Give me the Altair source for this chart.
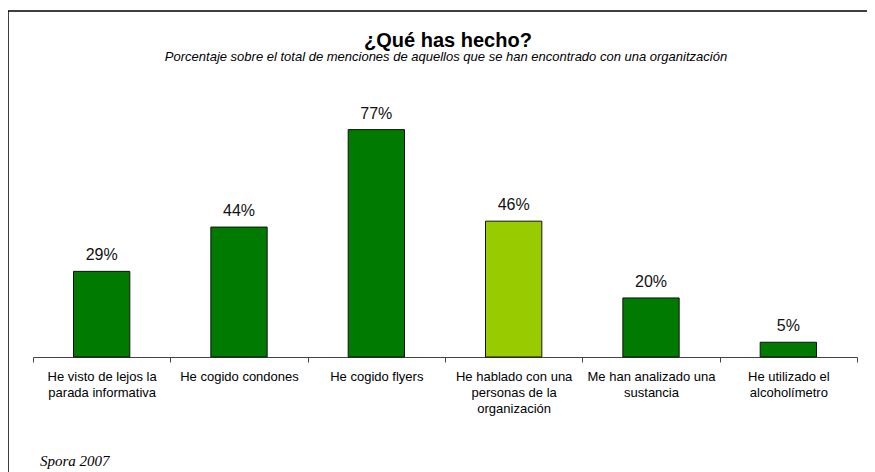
import altair as alt
import pandas as pd

categories = [
    "He visto de lejos la|parada informativa",
    "He cogido condones",
    "He cogido flyers",
    "He hablado con una|personas de la|organización",
    "Me han analizado una|sustancia",
    "He utilizado el|alcoholímetro",
]
values = [29, 44, 77, 46, 20, 5]
bar_colors = ["#007A00", "#007A00", "#007A00", "#99CC00", "#007A00", "#007A00"]
labels = ["29%", "44%", "77%", "46%", "20%", "5%"]

title_text = ["¿Qué has hecho?"]
subtitle_text = ["Porcentaje sobre el total de menciones de aquellos que se han encontrado con una organitzación"]
source_text = ["Spora 2007"]

df = pd.DataFrame({"cat": categories, "val": values, "color": bar_colors, "label": labels})

W, H = 824, 251

x_scale = alt.Scale(paddingInner=0, paddingOuter=0)

x_enc = alt.X(
    "cat:N",
    sort=categories,
    title=None,
    scale=x_scale,
    axis=alt.Axis(
        labelAngle=0,
        labelExpr="split(datum.label, '|')",
        labelFont="Liberation Sans",
        labelFontSize=13,
        labelColor="#000000",
        labelLineHeight=16,
        labelPadding=8,
        labelLimit=200,
        ticks=True,
        tickBand="extent",
        tickSize=5,
        tickWidth=1,
        tickColor="#444444",
        domainColor="#444444",
        domainWidth=1,
    ),
)
y_enc = alt.Y("val:Q", scale=alt.Scale(domain=[0, 85], nice=False), axis=None)

bars = alt.Chart(df).mark_bar(
    stroke="#111111", strokeWidth=1, width=alt.RelativeBandSize(0.41)
).encode(x=x_enc, y=y_enc, color=alt.Color("color:N", scale=None))

text = alt.Chart(df).mark_text(
    dy=-8, baseline="bottom", font="Liberation Sans", fontSize=16, color="#111111"
).encode(x=alt.X("cat:N", sort=categories), y=y_enc, text="label:N")

frame = alt.Chart(pd.DataFrame({"a": [0]})).mark_rect(
    fill=None, stroke="#000000", strokeWidth=1.5, clip=False
).encode(x=alt.value(-25), x2=alt.value(900), y=alt.value(-95), y2=alt.value(500))

title = alt.Chart(pd.DataFrame({"t": title_text})).mark_text(
    font="Liberation Sans", fontSize=20, fontWeight="bold", color="#000000", align="center", baseline="alphabetic"
).encode(x=alt.value(415), y=alt.value(47 - 106), text="t:N")

subtitle = alt.Chart(pd.DataFrame({"t": subtitle_text})).mark_text(
    font="Liberation Sans", fontSize=13, fontStyle="italic", color="#000000", align="center", baseline="alphabetic"
).encode(x=alt.value(413), y=alt.value(61 - 106), text="t:N")

source = alt.Chart(pd.DataFrame({"t": source_text})).mark_text(
    font="Liberation Serif", fontSize=15, fontStyle="italic", color="#000000", align="left", baseline="alphabetic"
).encode(x=alt.value(7), y=alt.value(466 - 106), text="t:N")

chart = alt.layer(frame, bars, text, title, subtitle, source).properties(
    width=W,
    height=H,
    autosize=alt.AutoSizeParams(type="none"),
    padding={"left": 25, "top": 98, "right": 10, "bottom": 115},
).configure(background="white").configure_view(strokeWidth=0, stroke="transparent")

chart.save("out.html", embed_options={"renderer": "svg", "actions": False})
